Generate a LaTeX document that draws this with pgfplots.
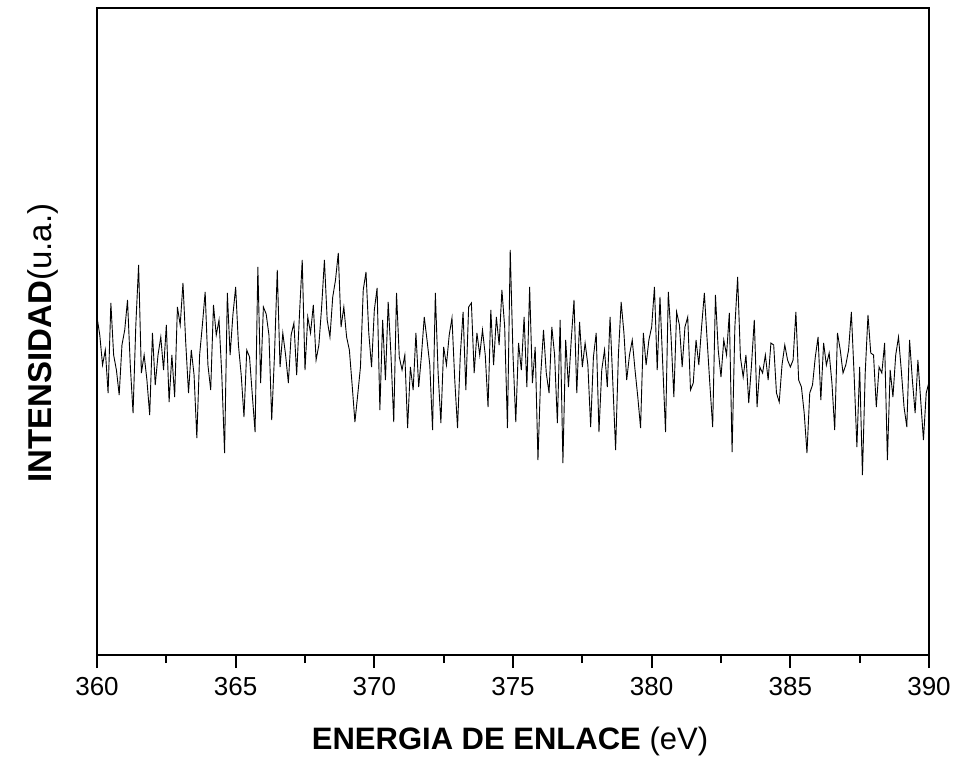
\documentclass[border=0pt]{standalone}
\usepackage{pgfplots}
\pgfplotsset{compat=1.18}
\usepackage{fontspec}
\setmainfont{Liberation Sans}
\begin{document}
\begin{tikzpicture}
\begin{axis}[
  name=ax,
  scale only axis,
  width=416pt, height=323.5pt,
  xmin=360, xmax=390, ymin=0, ymax=647,
  xtick={360,365,...,390},
  minor x tick num=1,
  ytick=\empty,
  xtick pos=bottom,
  tick align=outside,
  major tick length=6.5pt,
  minor tick length=4pt,
  every tick/.style={black, line width=1pt},
  axis line style={black, line width=1pt},
  /pgf/number format/assume math mode=true,
  /pgf/number format/set thousands separator={},
  xticklabel style={font=\fontsize{13}{15}\selectfont, inner sep=0pt, yshift=-4.5pt},
  xlabel={\textbf{ENERGIA DE ENLACE} (eV)},
  xlabel style={font=\fontsize{15.5}{18}\selectfont, at={(axis description cs:0.4964,-0.1468)}, anchor=base},
  ylabel={\textbf{INTENSIDAD}(u.a.)},
  ylabel style={font=\fontsize{16.5}{19}\selectfont, at={(axis description cs:-0.0541,0.4822)}, anchor=base, rotate=0},
]
\addplot[black, line width=0.45pt, mark=none] coordinates {
(360.0,338)(360.1,320)(360.2,290)(360.3,305)(360.4,262)(360.5,352)(360.6,300)(360.7,285)(360.8,260)(360.9,310)
(361.0,325)(361.1,355)(361.2,290)(361.3,242)(361.4,330)(361.5,390)(361.6,282)(361.7,300)(361.8,275)(361.9,240)
(362.0,322)(362.1,270)(362.2,300)(362.3,318)(362.4,285)(362.5,330)(362.6,253)(362.7,300)(362.8,258)(362.9,348)
(363.0,330)(363.1,372)(363.2,312)(363.3,262)(363.4,305)(363.5,280)(363.6,217)(363.7,300)(363.8,330)(363.9,363)
(364.0,290)(364.1,265)(364.2,350)(364.3,320)(364.4,335)(364.5,280)(364.6,202)(364.7,362)(364.8,300)(364.9,340)
(365.0,368)(365.1,310)(365.2,280)(365.3,238)(365.4,305)(365.5,298)(365.6,260)(365.7,223)(365.8,388)(365.9,272)
(366.0,348)(366.1,341)(366.2,320)(366.3,235)(366.4,300)(366.5,385)(366.6,288)(366.7,322)(366.8,300)(366.9,272)
(367.0,320)(367.1,332)(367.2,280)(367.3,340)(367.4,395)(367.5,285)(367.6,338)(367.7,322)(367.8,350)(367.9,295)
(368.0,310)(368.1,348)(368.2,395)(368.3,335)(368.4,318)(368.5,358)(368.6,375)(368.7,402)(368.8,328)(368.9,348)
(369.0,318)(369.1,305)(369.2,270)(369.3,233)(369.4,260)(369.5,288)(369.6,365)(369.7,383)(369.8,322)(369.9,288)
(370.0,345)(370.1,367)(370.2,245)(370.3,335)(370.4,275)(370.5,353)(370.6,300)(370.7,233)(370.8,362)(370.9,298)
(371.0,285)(371.1,300)(371.2,227)(371.3,288)(371.4,265)(371.5,322)(371.6,268)(371.7,300)(371.8,338)(371.9,315)
(372.0,290)(372.1,225)(372.2,362)(372.3,282)(372.4,232)(372.5,308)(372.6,290)(372.7,320)(372.8,337)(372.9,275)
(373.0,227)(373.1,300)(373.2,343)(373.3,265)(373.4,348)(373.5,352)(373.6,282)(373.7,322)(373.8,300)(373.9,325)
(374.0,300)(374.1,248)(374.2,345)(374.3,290)(374.4,338)(374.5,310)(374.6,365)(374.7,328)(374.8,227)(374.9,405)
(375.0,300)(375.1,233)(375.2,312)(375.3,285)(375.4,338)(375.5,268)(375.6,368)(375.7,272)(375.8,308)(375.9,195)
(376.0,280)(376.1,325)(376.2,282)(376.3,262)(376.4,328)(376.5,300)(376.6,232)(376.7,335)(376.8,192)(376.9,315)
(377.0,268)(377.1,315)(377.2,355)(377.3,262)(377.4,333)(377.5,288)(377.6,312)(377.7,290)(377.8,228)(377.9,298)
(378.0,322)(378.1,223)(378.2,285)(378.3,305)(378.4,268)(378.5,338)(378.6,272)(378.7,205)(378.8,300)(378.9,353)
(379.0,322)(379.1,275)(379.2,300)(379.3,315)(379.4,285)(379.5,258)(379.6,227)(379.7,322)(379.8,290)(379.9,315)
(380.0,328)(380.1,368)(380.2,285)(380.3,358)(380.4,290)(380.5,223)(380.6,363)(380.7,318)(380.8,258)(380.9,343)
(381.0,330)(381.1,288)(381.2,328)(381.3,338)(381.4,265)(381.5,272)(381.6,315)(381.7,290)(381.8,328)(381.9,362)
(382.0,315)(382.1,270)(382.2,228)(382.3,360)(382.4,305)(382.5,278)(382.6,315)(382.7,300)(382.8,342)(382.9,203)
(383.0,328)(383.1,378)(383.2,298)(383.3,278)(383.4,300)(383.5,252)(383.6,290)(383.7,335)(383.8,248)(383.9,288)
(384.0,282)(384.1,300)(384.2,275)(384.3,312)(384.4,310)(384.5,262)(384.6,253)(384.7,290)(384.8,310)(384.9,295)
(385.0,288)(385.1,295)(385.2,343)(385.3,275)(385.4,268)(385.5,242)(385.6,202)(385.7,262)(385.8,270)(385.9,298)
(386.0,318)(386.1,255)(386.2,312)(386.3,290)(386.4,302)(386.5,272)(386.6,225)(386.7,322)(386.8,305)(386.9,282)
(387.0,290)(387.1,305)(387.2,343)(387.3,280)(387.4,208)(387.5,288)(387.6,180)(387.7,282)(387.8,340)(387.9,302)
(388.0,300)(388.1,248)(388.2,288)(388.3,282)(388.4,312)(388.5,195)(388.6,285)(388.7,258)(388.8,300)(388.9,318)
(389.0,285)(389.1,248)(389.2,228)(389.3,315)(389.4,275)(389.5,242)(389.6,295)(389.7,255)(389.8,215)(389.9,262)
(390.0,273)
};
\end{axis}
\pgfresetboundingbox
\path[use as bounding box] ([xshift=-48.5pt,yshift=-53pt]ax.south west) rectangle ([xshift=12pt,yshift=4pt]ax.north east);
\end{tikzpicture}
\end{document}
